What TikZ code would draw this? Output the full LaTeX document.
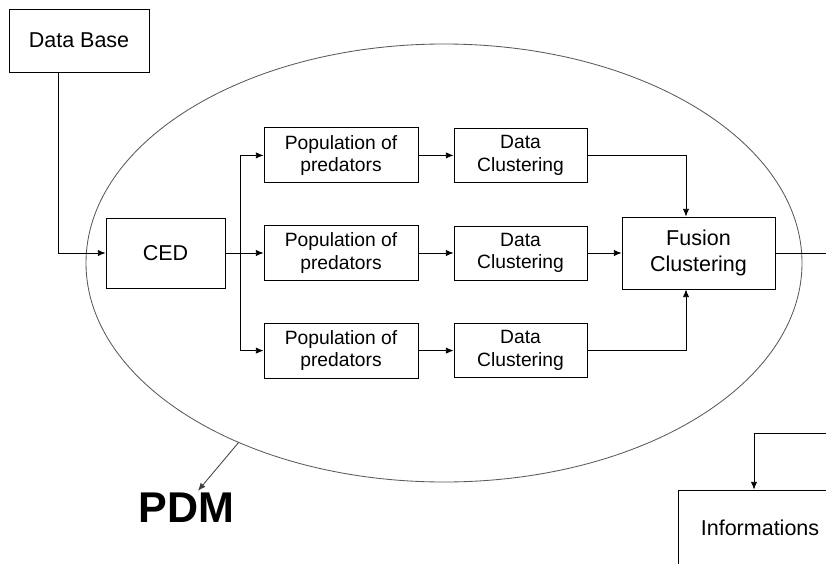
\documentclass[tikz,border=0pt]{standalone}
\usepackage{fontspec}
\setmainfont{Liberation Sans}
\usetikzlibrary{arrows.meta,positioning}

\begin{document}
\begin{tikzpicture}[->,>={Latex[length=5.5pt,width=4.5pt]},line width=0.6pt,
	block/.style={draw,rectangle,inner sep=0pt,align=center,font=\fontsize{15.3}{18.3}\selectfont},
	pop/.style={block,minimum width=3.85cm,minimum height=1.375cm,font=\fontsize{13.7}{16.1}\selectfont},
	clus/.style={block,minimum width=3.325cm,minimum height=1.35cm,font=\fontsize{13.7}{16.1}\selectfont}]

	\clip (0,0) rectangle (20.65,14.075);

	% The blocks
	\node [block,minimum width=3.5cm,minimum height=1.575cm] at (1.975,13.06) (db) {Data Base};
	\node [block,minimum width=2.975cm,minimum height=1.75cm] at (4.1375,7.75) (ced) {CED};

	\node [pop] at (8.525,10.19) (pop1) {Population of\\predators};
	\node [pop] at (8.525,7.75) (pop2) {Population of\\predators};
	\node [pop] at (8.525,5.31) (pop3) {Population of\\predators};

	\node [clus] at (13.0125,10.19) (dc1) {Data\\Clustering};
	\node [clus] at (13.0125,7.75) (dc2) {Data\\Clustering};
	\node [clus] at (13.0125,5.31) (dc3) {Data\\Clustering};

	\node [block,minimum width=3.825cm,minimum height=1.8cm] at (17.4625,7.75) (fus) {Fusion\\Clustering};
	\node [block,minimum width=4.1cm,minimum height=1.9cm] at (19.0,0.875) (info) {Informations};

	\node [inner sep=1pt,font=\fontsize{30.6}{30.6}\selectfont\bfseries] at (4.66,1.39) (pdm) {PDM};

	% The PDM ellipse
	\coordinate (c) at (11.1,7.5);
	\draw[-,black!65] (c) ellipse [x radius=8.95cm, y radius=5.475cm];
	\path (c) ++(235:8.95 and 5.475) coordinate (rim);
	\draw[black!75] (rim) -- ([xshift=0.29cm]pdm.north);

	% Graph edges
	\coordinate (split) at (6.0,7.75);
	\coordinate (out) at (21.5,7.75);
	\coordinate (back) at (21.5,3.25);
	\coordinate (turn) at (18.85,3.25);

	\draw ([xshift=-0.525cm]db.south) |- (ced.west);
	\path (ced) edge (pop2);
	\draw (split) |- (pop1.west);
	\draw (split) |- (pop3.west);

	\path
	(pop1) edge (dc1)
	(pop2) edge (dc2)
	(pop3) edge (dc3)
	(dc2) edge (fus);

	\draw (dc1) -| ([xshift=-0.3125cm]fus.north);
	\draw (dc3) -| ([xshift=-0.3125cm]fus.south);

	\draw[-] (fus) -- (out);
	\draw (back) -- (turn) -- (turn |- info.north);

\end{tikzpicture}
\end{document}
